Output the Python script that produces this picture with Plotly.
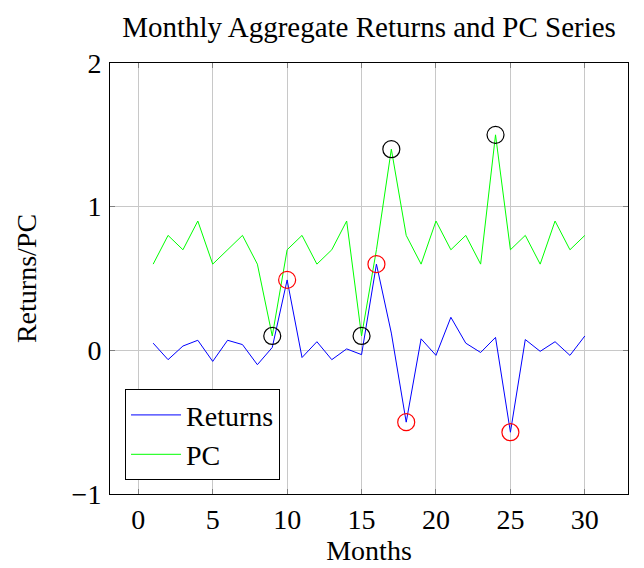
import plotly.graph_objects as go

months = list(range(1, 31))
returns = [0.05, -0.065, 0.03, 0.07, -0.077, 0.07, 0.04, -0.1, 0.02, 0.49,
           -0.05, 0.06, -0.065, 0.01, -0.03, 0.6, 0.12, -0.5, 0.08, -0.035,
           0.23, 0.05, -0.015, 0.09, -0.57, 0.075, -0.007, 0.06, -0.035, 0.1]
pc = [0.6, 0.8, 0.7, 0.9, 0.6, 0.7, 0.8, 0.6, 0.1, 0.7,
      0.8, 0.6, 0.7, 0.9, 0.1, 0.7, 1.4, 0.8, 0.6, 0.9,
      0.7, 0.8, 0.6, 1.5, 0.7, 0.8, 0.6, 0.9, 0.7, 0.8]
pc_mark_x = [9, 15, 17, 24]
pc_mark_y = [0.1, 0.1, 1.4, 1.5]
ret_mark_x = [10, 16, 18, 25]
ret_mark_y = [0.49, 0.6, -0.5, -0.57]

FONT = "Liberation Serif"
FS = 28

fig = go.Figure()
fig.add_trace(go.Scatter(x=months, y=returns, mode="lines", name="Returns",
                         line=dict(color="#0000ff", width=1)))
fig.add_trace(go.Scatter(x=months, y=pc, mode="lines", name="PC",
                         line=dict(color="#00ff00", width=1)))
fig.add_trace(go.Scatter(x=pc_mark_x, y=pc_mark_y, mode="markers", showlegend=False,
                         marker=dict(symbol="circle-open", size=17, color="black",
                                     line=dict(width=1.2))))
fig.add_trace(go.Scatter(x=ret_mark_x, y=ret_mark_y, mode="markers", showlegend=False,
                         marker=dict(symbol="circle-open", size=17, color="red",
                                     line=dict(width=1.2))))

axis_common = dict(showgrid=True, gridcolor="#c8c8c8", gridwidth=1,
                   showline=True, linecolor="black", linewidth=1, mirror="ticks",
                   ticks="inside", ticklen=5, tickcolor="#808080", zeroline=False,
                   tickfont=dict(family=FONT, size=FS, color="black"))

fig.update_layout(
    width=644, height=568,
    paper_bgcolor="white", plot_bgcolor="white",
    margin=dict(l=102, r=24, t=55, b=82),
    font=dict(family=FONT, size=FS, color="black"),
    title=dict(text="Monthly Aggregate Returns and PC Series", x=0.5606, xanchor="center",
               y=0.966, yanchor="middle", font=dict(family=FONT, size=29, color="black")),
    xaxis=dict(range=[-1.9, 32.9], tickvals=[0, 5, 10, 15, 20, 25, 30],
               title=dict(text="Months", standoff=2, font=dict(family=FONT, size=FS)),
               ticklabelstandoff=0, **axis_common),
    yaxis=dict(range=[-1, 2], tickvals=[-1, 0, 1, 2],
               title=dict(text="Returns/PC", standoff=26, font=dict(family=FONT, size=FS)),
               ticklabelstandoff=2, **axis_common),
    legend=dict(x=0.029, y=0.032, xanchor="left", yanchor="bottom",
                bordercolor="black", borderwidth=1, bgcolor="white",
                font=dict(family=FONT, size=FS), tracegroupgap=0, itemwidth=50),
    showlegend=True,
)

fig.write_html("out.html")
